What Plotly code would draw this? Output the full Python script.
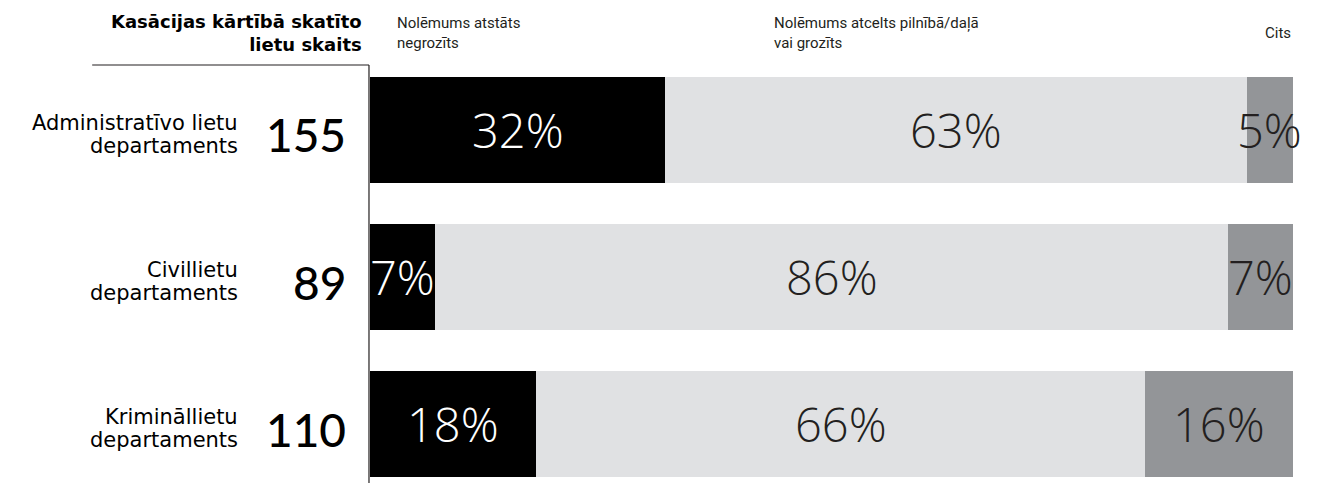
import plotly.graph_objects as go

departments = ["Administratīvo lietu<br>departaments", "Civillietu<br>departaments", "Krimināllietu<br>departaments"]
case_counts = [155, 89, 110]
upheld = [32, 7, 18]
annulled = [63, 86, 66]
other = [5, 7, 16]
series_names = ["Nolēmums atstāts<br>negrozīts", "Nolēmums atcelts pilnībā/daļā<br>vai grozīts", "Cits"]
header_left = "<b>Kasācijas kārtībā skatīto<br>lietu skaits</b>"

colors = ["#000000", "#e0e1e3", "#939598"]
text_colors = ["#ffffff", "#231f20", "#231f20"]
series = [upheld, annulled, other]

ypos = list(range(len(departments)))

fig = go.Figure()
for vals, col, name in zip(series, colors, series_names):
    fig.add_trace(go.Bar(
        y=ypos, x=vals, orientation="h", marker=dict(color=col, line=dict(width=0)),
        width=0.72, name=name, showlegend=False, hoverinfo="skip"))

annotations = []
pct_font = "Open Sans"
for i in ypos:
    start = 0
    for k, vals in enumerate(series):
        v = vals[i]
        annotations.append(dict(
            x=start + v / 2, y=i, xref="x", yref="y", text=f"{v}%", showarrow=False,
            xanchor="center", yanchor="middle",
            font=dict(family=pct_font, size=47, color=text_colors[k], weight=300)))
        start += v
    # department label, one annotation per line for tight leading
    for j, line in enumerate(departments[i].split("<br>")):
        annotations.append(dict(
            x=-0.1408, y=i, xref="paper", yref="y", text=line, showarrow=False,
            xanchor="right", yanchor="middle", align="right", yshift=7 - 23 * j,
            font=dict(family="DejaVu Sans", size=21, color="#000000")))
    annotations.append(dict(
        x=-0.024, y=i, xref="paper", yref="y", text=str(case_counts[i]), showarrow=False,
        xanchor="right", yanchor="middle", yshift=-5,
        font=dict(family="Lato", size=46, color="#000000", weight=500)))

# header
annotations.append(dict(
    x=-0.006, y=1.077, xref="paper", yref="paper", text=header_left, showarrow=False,
    xanchor="right", yanchor="middle", align="right",
    font=dict(family="DejaVu Sans", size=18, color="#000000")))
legend_x = [0.027, 0.436, 0.968]
for lx, name in zip(legend_x, series_names):
    annotations.append(dict(
        x=lx, y=1.077, xref="paper", yref="paper", text=name, showarrow=False,
        xanchor="left", yanchor="middle", align="left",
        font=dict(family="Roboto", size=15, color="#231f20")))

shapes = [
    dict(type="line", xref="paper", yref="paper", x0=-0.0011, x1=-0.0011, y0=1, y1=0,
         line=dict(color="#231f20", width=1.2)),
    dict(type="line", xref="paper", yref="paper", x0=-0.301, x1=-0.0011, y0=1, y1=1,
         line=dict(color="#231f20", width=1.2)),
]

fig.update_layout(
    width=1328, height=483,
    margin=dict(l=362, r=43, t=57, b=8),
    barmode="stack", bargap=0,
    plot_bgcolor="#ffffff", paper_bgcolor="#ffffff",
    xaxis=dict(range=[0, 100], visible=False, fixedrange=True),
    yaxis=dict(range=[2.401, -0.442], visible=False, fixedrange=True),
    annotations=annotations, shapes=shapes,
)

fig.write_html("out.html")
